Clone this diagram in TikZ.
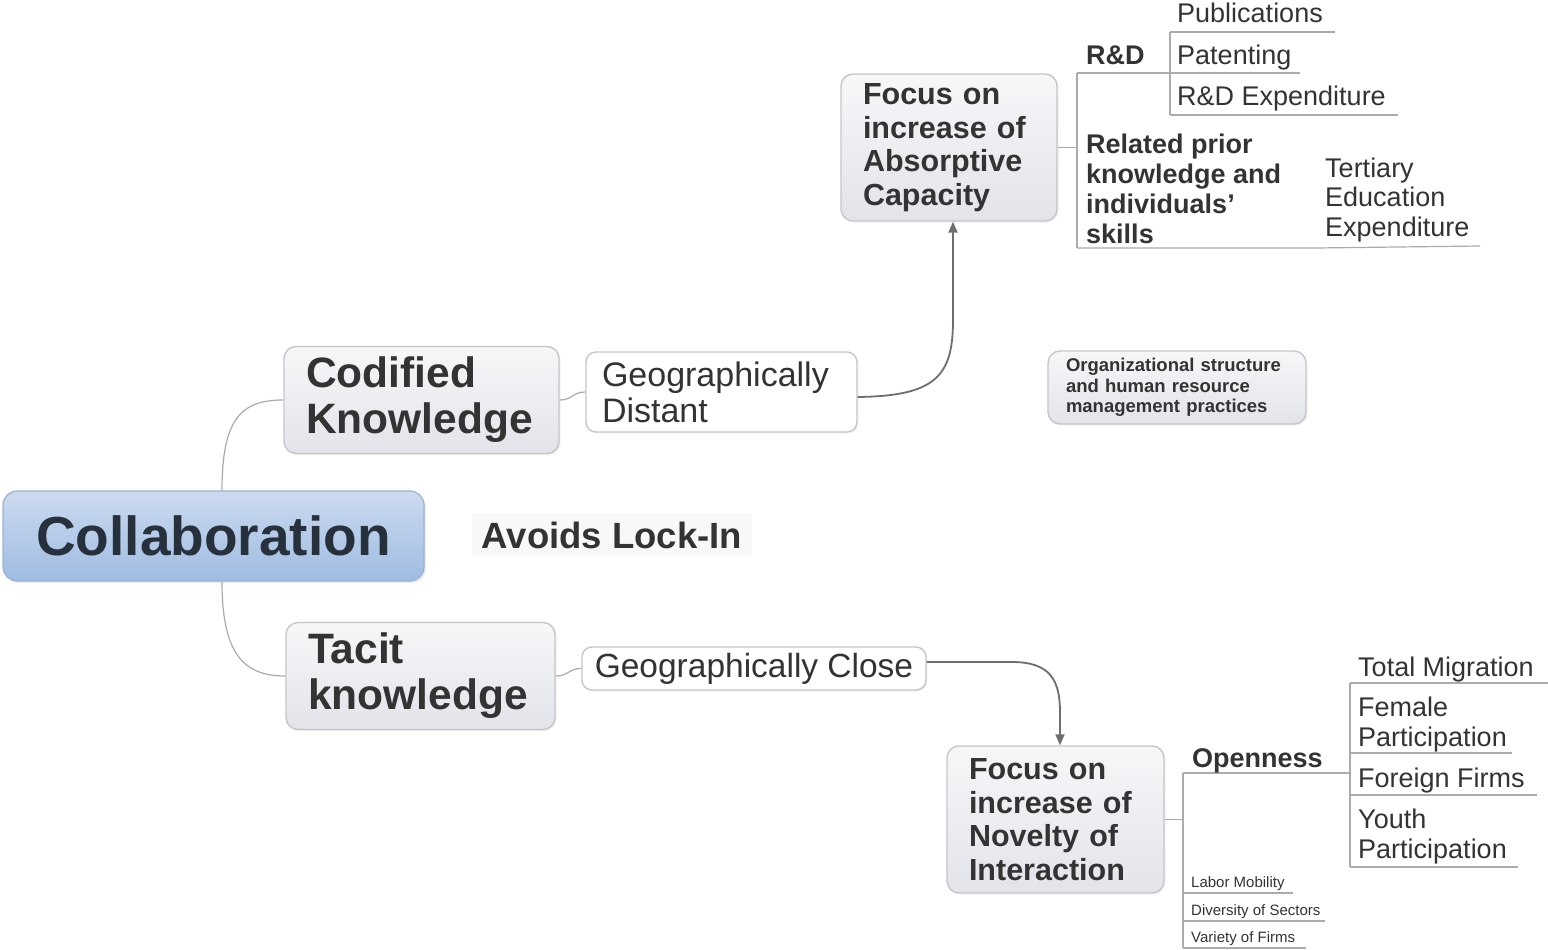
\documentclass[tikz,border=0pt]{standalone}
\usepackage{fontspec}
\setmainfont{Liberation Sans}
\usetikzlibrary{arrows.meta,shadows}

\definecolor{ink}{HTML}{333333}
\definecolor{navy}{HTML}{27303D}
\definecolor{boxline}{HTML}{C4C6CC}
\definecolor{boxtop}{HTML}{F7F7F9}
\definecolor{boxbot}{HTML}{E2E4EA}
\definecolor{bluetop}{HTML}{CBDAEF}
\definecolor{bluebot}{HTML}{A0BCE2}
\definecolor{blueline}{HTML}{9CB2D0}
\definecolor{branchc}{HTML}{ABABAB}
\definecolor{arrowc}{HTML}{6E6E6E}
\definecolor{haze}{HTML}{F8F8FA}

\begin{document}
\begin{tikzpicture}[x=1pt,y=-1pt,
  every node/.style={text=ink},
  fs/.style 2 args={font=\fontsize{#1}{#2}\selectfont},
  fsb/.style 2 args={font=\fontsize{#1}{#2}\selectfont\bfseries},
  card/.style={draw=boxline, line width=1.4pt, rounded corners=12pt,
    top color=boxtop, bottom color=boxbot, align=left, inner ysep=0pt,
    drop shadow={opacity=0.12, shadow xshift=1.5pt, shadow yshift=-1.5pt}},
  plaincard/.style={draw=boxline, line width=1.4pt, rounded corners=10pt,
    fill=white, align=left, inner ysep=0pt,
    drop shadow={opacity=0.10, shadow xshift=1.5pt, shadow yshift=-1.5pt}},
  rootcard/.style={draw=blueline, line width=1.2pt, rounded corners=14pt,
    top color=bluetop, bottom color=bluebot, inner sep=0pt, text=navy,
    drop shadow={opacity=0.15, shadow xshift=2pt, shadow yshift=-2pt}},
  leaf/.style={anchor=base west, inner sep=0pt, align=left},
  link/.style={draw=branchc, line width=1.2pt},
  tree/.style={draw=branchc, line width=1.2pt},
  flow/.style={draw=arrowc, line width=1.8pt,
    -{Triangle[length=11pt,width=9pt]}},
]
\useasboundingbox (0,0) rectangle (1548,950);

% ---------- central topic and its two branches ----------
\node[rootcard, minimum width=421, minimum height=90, fsb={55}{60}]
  (col) at (213.5,536) {Collaboration};

\node[fill=haze, inner xsep=10pt, inner ysep=8pt, fsb={36.5}{40}]
  (av) at (612,535) {Avoids Lock-In};

\node[card, minimum width=275, minimum height=107, text width=231,
  inner xsep=22pt, fsb={42.5}{46}] (cod) at (421.5,400)
  {Codified\\Knowledge};
\node[card, minimum width=269, minimum height=107, text width=225,
  inner xsep=22pt, fsb={42.5}{46}] (tac) at (420.5,676)
  {Tacit\\knowledge};

\node[plaincard, minimum width=271, minimum height=80, text width=239,
  inner xsep=16pt, fs={34}{36}] (gd) at (721.5,392)
  {Geographically\\Distant};
\node[plaincard, minimum width=344, minimum height=43,
  inner xsep=9pt, fs={33.5}{36}] (gc) at (754,668.5)
  {Geographically Close};

\draw[link] ([xshift=8.5pt]col.north) .. controls +(0,-72) and +(-42,0) .. (cod.west);
\draw[link] ([xshift=8.5pt]col.south) .. controls +(0,72) and +(-42,0) .. (tac.west);
\draw[link] (cod.east) .. controls +(13,0) and +(-13,0) .. (gd.west);
\draw[link] (tac.east) .. controls +(13,0) and +(-13,0) .. (gc.west);

% ---------- absorptive capacity ----------
\node[card, minimum width=216, minimum height=147, text width=172,
  inner xsep=22pt, fsb={30.5}{33.5}] (abs) at (949,147.5)
  {Focus on\\increase of\\Absorptive\\Capacity};

\draw[flow] ([yshift=-5pt]gd.east) .. controls (936,396) and (953,376)
  .. (953,320) -- ([xshift=4pt]abs.south);

\node[card, minimum width=258, minimum height=73, text width=222,
  inner xsep=18pt, fsb={18.5}{20.5}] (org) at (1177,387.5)
  {Organizational structure\\and human resource\\management practices};

\coordinate (aj)   at (1077,147.5);
\coordinate (rdL)  at (1077,73);
\coordinate (rdR)  at (1170,73);
\coordinate (patR) at (1300,73);
\coordinate (pubL) at (1170,32);
\coordinate (pubR) at (1335,32);
\coordinate (rexL) at (1170,115);
\coordinate (rexR) at (1398,115);
\coordinate (relL) at (1077,248);
\coordinate (relR) at (1316,248);
\coordinate (terR) at (1480,246);

\draw[tree] (abs.east) -- (aj);
\draw[tree] (rdL) -- (relL);
\draw[tree] (rdL) -- (rdR) -- (patR);
\draw[tree] (pubL) -- (rexL);
\draw[tree] (pubL) -- (pubR);
\draw[tree] (rexL) -- (rexR);
\draw[tree] (relL) -- (relR) -- (terR);

% multi-line leaves are placed by the baseline of their last line
\node[leaf, fsb={27}{30}] (rd)  at (1086,65)  {R\&D};
\node[leaf, fs={27}{30}]  (pub) at (1177,23)  {Publications};
\node[leaf, fs={27}{30}]  (pat) at (1177,65)  {Patenting};
\node[leaf, fs={27}{30}]  (rex) at (1177,106) {R\&D Expenditure};
\node[leaf, fsb={27}{30}] (rel) at (1086,243)
  {Related prior\\knowledge and\\individuals’\\skills};
\node[leaf, fs={27}{29.5}] (ter) at (1325,236)
  {Tertiary\\Education\\Expenditure};

% ---------- novelty of interaction ----------
\node[card, minimum width=217, minimum height=147, text width=173,
  inner xsep=22pt, fsb={30.5}{33.5}] (nov) at (1055.5,819.5)
  {Focus on\\increase of\\Novelty of\\Interaction};

\draw[flow] ([yshift=6.5pt]gc.east) -- (1012,662)
  .. controls (1050,662) and (1060,680) .. (1060,712) -- ([xshift=4.5pt]nov.north);

\coordinate (nj)  at (1183,819.5);
\coordinate (opL) at (1183,773);
\coordinate (opR) at (1350,773);
\coordinate (tmL) at (1350,683);
\coordinate (tmR) at (1548,683);
\coordinate (feL) at (1350,753);
\coordinate (feR) at (1512,753);
\coordinate (foL) at (1350,795);
\coordinate (foR) at (1537,795);
\coordinate (yoL) at (1350,867);
\coordinate (yoR) at (1518,867);
\coordinate (laL) at (1183,893);
\coordinate (laR) at (1293,893);
\coordinate (diL) at (1183,921);
\coordinate (diR) at (1325,921);
\coordinate (vaL) at (1183,948);
\coordinate (vaR) at (1306,948);

\draw[tree] (nov.east) -- (nj);
\draw[tree] (opL) -- (vaL);
\draw[tree] (opL) -- (opR);
\draw[tree] (tmL) -- (yoL);
\draw[tree] (tmL) -- (tmR);
\draw[tree] (feL) -- (feR);
\draw[tree] (foL) -- (foR);
\draw[tree] (yoL) -- (yoR);
\draw[tree] (laL) -- (laR);
\draw[tree] (diL) -- (diR);
\draw[tree] (vaL) -- (vaR);

\node[leaf, fsb={27}{30}] (op) at (1192,767) {Openness};
\node[leaf, fs={27}{30}] (tm) at (1358,676) {Total Migration};
\node[leaf, fs={27}{30}] (fe) at (1358,746) {Female\\Participation};
\node[leaf, fs={27}{30}] (fo) at (1358,787) {Foreign Firms};
\node[leaf, fs={27}{30}] (yo) at (1358,858) {Youth\\Participation};
\node[leaf, fs={15}{18}] (la) at (1191,887) {Labor Mobility};
\node[leaf, fs={15}{18}] (di) at (1191,915) {Diversity of Sectors};
\node[leaf, fs={15}{18}] (va) at (1191,942) {Variety of Firms};
\end{tikzpicture}
\end{document}
